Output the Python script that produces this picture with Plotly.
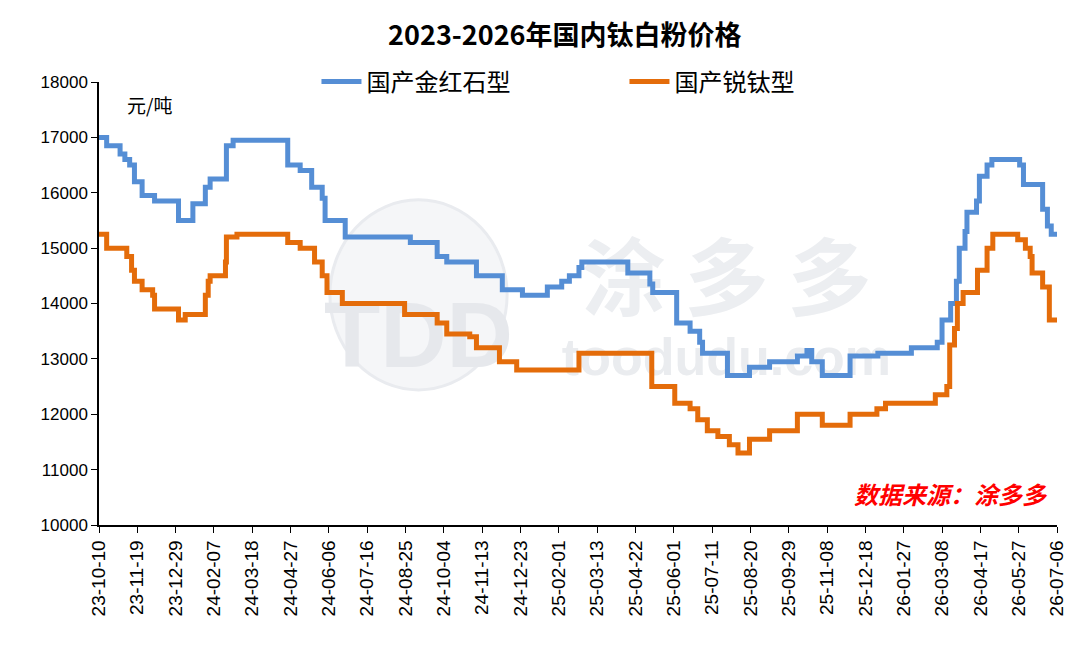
import plotly.graph_objects as go

# ---- data (change points of the step series) ----
rutile_dates = [
    "2023-10-10", "2023-10-18", "2023-11-01", "2023-11-06", "2023-11-11", "2023-11-16",
    "2023-11-24", "2023-12-07", "2024-01-01", "2024-01-16", "2024-01-29", "2024-02-03",
    "2024-02-20", "2024-02-27", "2024-04-24", "2024-05-07", "2024-05-19", "2024-05-30",
    "2024-06-02", "2024-06-23", "2024-08-30", "2024-09-27", "2024-10-07", "2024-11-07",
    "2024-12-04", "2024-12-25", "2025-01-20", "2025-02-04", "2025-02-12", "2025-02-22",
    "2025-02-25", "2025-04-14", "2025-05-07", "2025-05-10", "2025-06-04", "2025-06-18",
    "2025-06-28", "2025-07-01", "2025-07-27", "2025-08-19", "2025-09-09", "2025-10-08",
    "2025-10-18", "2025-10-23", "2025-11-03", "2025-12-02", "2025-12-31", "2026-02-04",
    "2026-03-03", "2026-03-08", "2026-03-17", "2026-03-23", "2026-03-26", "2026-04-01",
    "2026-04-03", "2026-04-13", "2026-04-16", "2026-04-24", "2026-04-29", "2026-05-28",
    "2026-06-01", "2026-06-21", "2026-06-26", "2026-06-30", "2026-07-06",
]
rutile_values = [
    17000, 16850, 16700, 16600, 16500, 16200,
    15950, 15850, 15500, 15800, 16100, 16250,
    16850, 16950, 16500, 16400, 16100, 15900,
    15500, 15200, 15100, 14850, 14750, 14500,
    14250, 14150, 14300, 14400, 14500, 14650,
    14750, 14550, 14350, 14200, 13650, 13500,
    13300, 13100, 12700, 12850, 12950, 13050,
    13150, 12950, 12700, 13050, 13100, 13200,
    13300, 13700, 14000, 14400, 15000, 15300,
    15650, 15850, 16300, 16500, 16600, 16500,
    16150, 15700, 15400, 15250, 15250,
]

anatase_dates = [
    "2023-10-10", "2023-10-18", "2023-11-08", "2023-11-13", "2023-11-16", "2023-11-24",
    "2023-12-05", "2023-12-07", "2024-01-01", "2024-01-08", "2024-01-29", "2024-02-01",
    "2024-02-03", "2024-02-19", "2024-02-20", "2024-03-02", "2024-04-24", "2024-05-07",
    "2024-05-22", "2024-05-30", "2024-06-04", "2024-06-20", "2024-08-24", "2024-09-27",
    "2024-10-07", "2024-10-31", "2024-11-07", "2024-12-01", "2024-12-19", "2025-02-22",
    "2025-05-09", "2025-06-02", "2025-06-18", "2025-06-26", "2025-07-06", "2025-07-17",
    "2025-07-29", "2025-08-07", "2025-08-19", "2025-09-09", "2025-10-08", "2025-11-03",
    "2025-12-02", "2025-12-30", "2026-01-08", "2026-03-01", "2026-03-13", "2026-03-16",
    "2026-03-21", "2026-03-24", "2026-03-30", "2026-04-14", "2026-04-24", "2026-04-30",
    "2026-05-26", "2026-06-03", "2026-06-08", "2026-06-10", "2026-06-21", "2026-06-28",
    "2026-07-06",
]
anatase_values = [
    15250, 15000, 14850, 14600, 14400, 14250,
    14150, 13900, 13700, 13800, 14150, 14400,
    14500, 14750, 15200, 15250, 15100, 15000,
    14750, 14500, 14200, 14000, 13800, 13650,
    13450, 13400, 13200, 12950, 12800, 13100,
    12500, 12200, 12100, 11900, 11700, 11600,
    11450, 11300, 11550, 11700, 12000, 11800,
    12000, 12100, 12200, 12350, 12500, 13250,
    13550, 14000, 14200, 14600, 15000, 15250,
    15150, 15000, 14850, 14550, 14300, 13700,
    13700,
]

x_tick_dates = [
    "2023-10-10", "2023-11-19", "2023-12-29", "2024-02-07", "2024-03-18", "2024-04-27",
    "2024-06-06", "2024-07-16", "2024-08-25", "2024-10-04", "2024-11-13", "2024-12-23",
    "2025-02-01", "2025-03-13", "2025-04-22", "2025-06-01", "2025-07-11", "2025-08-20",
    "2025-09-29", "2025-11-08", "2025-12-18", "2026-01-27", "2026-03-08", "2026-04-17",
    "2026-05-27", "2026-07-06",
]
x_tick_labels = [d[2:] for d in x_tick_dates]
y_ticks = [10000, 11000, 12000, 13000, 14000, 15000, 16000, 17000, 18000]
y_tick_labels = [str(v) for v in y_ticks]

series_names = ["国产金红石型", "国产锐钛型"]
colors = ["#558ED5", "#E46C0A"]

title_text = "2023-2026年国内钛白粉价格"
unit_text = "元/吨"
source_text = "数据来源：涂多多"

CJK = "Noto Sans CJK SC"
LAT = "Liberation Sans"

fig = go.Figure()

# watermark (faint, drawn below the data via shapes on the "below" layer)
fig.add_shape(type="circle", xref="paper", yref="paper",
              x0=0.241, x1=0.426, y0=0.305, y1=0.734,
              line=dict(color="rgba(233,235,239,1)", width=3),
              fillcolor="rgba(245,246,248,1)", layer="below")
wm = [
    ("TDD", 0.235, 0.432, 0.36, 0.54, LAT, 92, "#E6E8EC"),
    ("涂 多 多", 0.48, 0.83, 0.45, 0.63, CJK, 84, "#ECEEF1"),
    ("toodudu.com", 0.48, 0.83, 0.34, 0.44, LAT, 52, "#EAECEF"),
]
for txt, x0, x1, y0, y1, fam, sz, col in wm:
    fig.add_shape(type="rect", xref="paper", yref="paper", x0=x0, x1=x1, y0=y0, y1=y1,
                  line=dict(width=0, color="rgba(0,0,0,0)"), fillcolor="rgba(0,0,0,0)",
                  layer="below",
                  label=dict(text=txt, textposition="middle center",
                             font=dict(family=fam, size=sz, color=col, weight="bold")))

for name, xs, ys, c in [
    (series_names[0], rutile_dates, rutile_values, colors[0]),
    (series_names[1], anatase_dates, anatase_values, colors[1]),
]:
    fig.add_trace(go.Scatter(
        x=xs, y=ys, name=name, mode="lines",
        line=dict(color=c, width=5, shape="hv"),
    ))

fig.add_annotation(text=unit_text, xref="paper", yref="paper", x=0.027, y=0.95,
                   xanchor="left", yanchor="middle", showarrow=False,
                   font=dict(family=CJK, size=19, color="#000"))
fig.add_annotation(text="<b><i>" + source_text + "</i></b>", xref="paper", yref="paper",
                   x=0.993, y=0.072, xanchor="right", yanchor="middle", showarrow=False,
                   font=dict(family=CJK, size=24, color="#FF0000"))

fig.update_layout(
    width=1080, height=648,
    margin=dict(l=99, r=23, t=82, b=123),
    paper_bgcolor="white", plot_bgcolor="white",
    title=dict(text="<b>" + title_text + "</b>", x=0.523, xanchor="center",
               y=0.945, yanchor="middle",
               font=dict(family=CJK, size=27, color="#000")),
    legend=dict(orientation="h", x=0.227, y=1.0, xanchor="left", yanchor="middle",
                bgcolor="rgba(0,0,0,0)", font=dict(family=CJK, size=24, color="#000"),
                entrywidth=253, entrywidthmode="pixels", itemwidth=40),
    showlegend=True,
)
fig.update_xaxes(
    type="date", range=["2023-10-10", "2026-07-06"],
    tickvals=x_tick_dates, ticktext=x_tick_labels, tickangle=-90,
    ticks="outside", ticklen=6, tickcolor="#000", tickwidth=1,
    showline=True, linecolor="#000", linewidth=1.5, showgrid=False, zeroline=False,
    tickfont=dict(family=LAT, size=19, color="#000"),
)
fig.update_yaxes(
    range=[10000, 18000], tickvals=y_ticks, ticktext=y_tick_labels,
    ticks="outside", ticklen=6, tickcolor="#000", tickwidth=1,
    showline=True, linecolor="#000", linewidth=1.5, showgrid=False, zeroline=False,
    tickfont=dict(family=LAT, size=17, color="#000"),
)

fig.write_html("out.html")
